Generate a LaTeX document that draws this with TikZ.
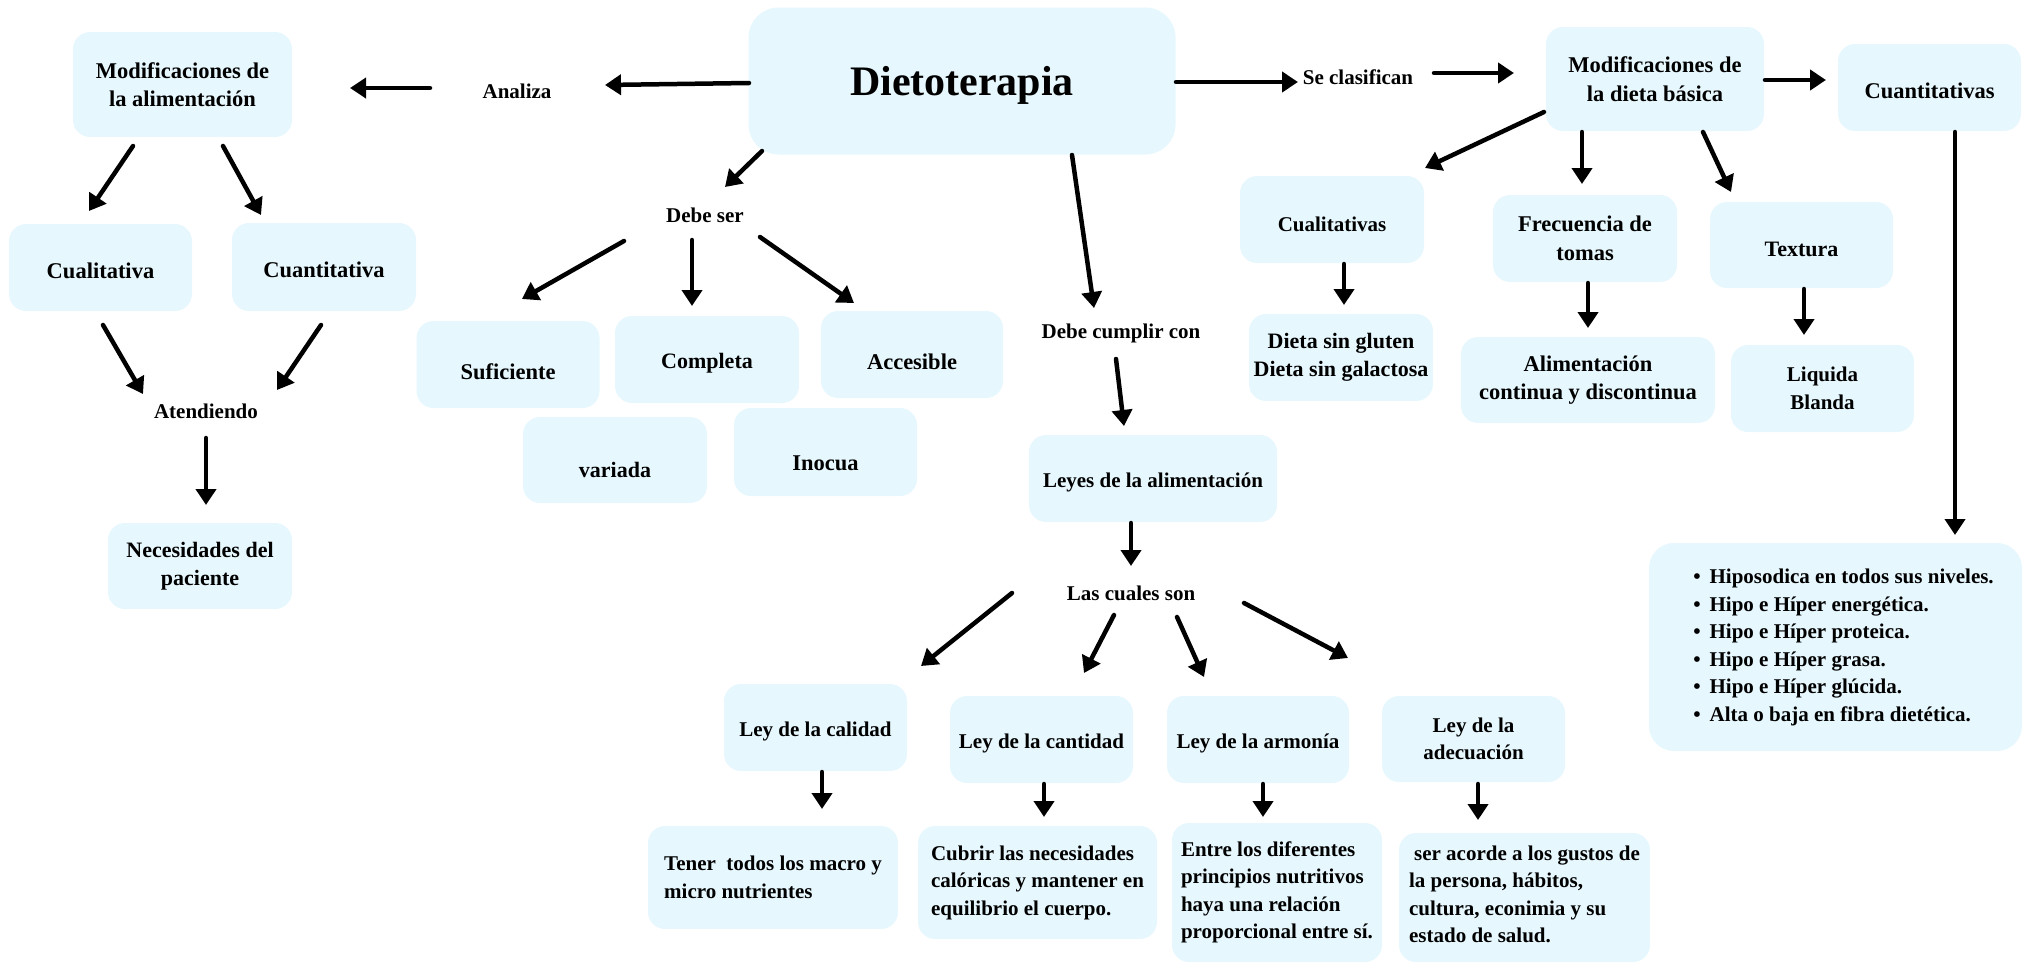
\documentclass[tikz,border=0pt]{standalone}
\usepackage{fontspec}
\setmainfont{Liberation Serif}
\usetikzlibrary{arrows.meta}
\definecolor{boxblue}{RGB}{230,247,253}
\begin{document}
\begin{tikzpicture}[x=1pt,y=-1pt,
  box/.style={fill=boxblue, rounded corners=17pt, inner sep=4pt, align=center, font=\fontsize{21}{27.5}\selectfont\bfseries, lowtxt=22},
  plain/.style={inner sep=2pt, font=\fontsize{21}{27.5}\selectfont\bfseries},
  fa/.style={font=\fontsize{22}{28}\selectfont\bfseries},
  fb/.style={font=\fontsize{22.5}{28.6}\selectfont\bfseries},
  arr/.style={line width=4.5pt, line cap=round, -{Triangle[width=20pt,length=16pt]}},
  bw/.style 2 args={minimum width=#1pt, minimum height=#2pt},
  txtlow/.style={text height=#1pt, text depth=0pt},
  lowtxt/.style={execute at begin node={\rule{0pt}{#1pt}}}
]
\useasboundingbox (0,0) rectangle (2040,964);

% ---------- nodes ----------
\node[box,bw={427}{147},rounded corners=30pt,font=\fontsize{42}{50}\selectfont\bfseries,lowtxt=37] (dieto) at (962,81) {Dietoterapia};
\node[plain] (analiza) at (517,91) {Analiza};
\node[box,fb,bw={219}{105},lowtxt=0] (modal) at (182.5,84.5) {Modificaciones de\\la alimentación};
\node[box,fb,bw={183}{87}] (cuali) at (100.5,267.5) {Cualitativa};
\node[box,fb,bw={184}{88}] (cuanti) at (324,267) {Cuantitativa};
\node[plain] (atend) at (206,411) {Atendiendo};
\node[box,fa,bw={184}{86}] (neces) at (200,566) {Necesidades del\\paciente};

\node[plain] (debeser) at (705,215) {Debe ser};
\node[box,fb,bw={183}{87},txtlow=30.5] (sufi) at (508,364.5) {Suficiente};
\node[box,fa,bw={184}{87}] (compl) at (707,359.5) {Completa};
\node[box,fb,bw={182}{87},txtlow=29.5] (acces) at (912,354.5) {Accesible};
\node[box,fa,bw={184}{86},txtlow=34.5] (variada) at (615,460) {variada};
\node[box,fb,bw={183}{88},txtlow=36.5] (inocua) at (825.5,452) {Inocua};

\node[plain] (debecum) at (1121,333) {Debe cumplir con};
\node[box,bw={248}{87}] (leyes) at (1153,478.5) {Leyes de la alimentación};
\node[plain] (lascuales) at (1131,593) {Las cuales son};
\node[box,bw={183}{87},lowtxt=18] (calidad) at (815.5,727.5) {Ley de la calidad};
\node[box,bw={183}{87},lowtxt=18] (cantidad) at (1041.5,739.5) {Ley de la cantidad};
\node[box,bw={182}{87},lowtxt=18] (armonia) at (1258,739.5) {Ley de la armonía};
\node[box,bw={183}{86},lowtxt=0] (adecu) at (1473.5,739) {Ley de la\\adecuación};
\node[box,bw={250}{103},align=left,lowtxt=0] (tener) at (773,877.5) {Tener~ todos los macro y\\micro nutrientes};
\node[box,bw={239}{113},align=left,lowtxt=0] (cubrir) at (1037.5,882.5) {Cubrir las necesidades\\calóricas y mantener en\\equilibrio el cuerpo.};
\node[box,bw={210}{139},align=left,lowtxt=0] (entre) at (1277,892.5) {Entre los diferentes\\principios nutritivos\\haya una relación\\proporcional entre sí.};
\node[box,bw={251}{129},lowtxt=0,label={[plain,align=left,yshift=3pt]center:{\hspace*{5pt}ser acorde a los gustos de\\la persona, hábitos,\\cultura, econimia y su\\estado de salud.}}] (ser) at (1524.5,897.5) {};

\node[plain] (seclas) at (1358,77) {Se clasifican};
\node[box,fb,bw={218}{104},lowtxt=19] (mdb) at (1655,79) {Modificaciones de\\la dieta básica};
\node[box,fb,bw={183}{87}] (cuants) at (1929.5,87.5) {Cuantitativas};
\node[box,bw={184}{87},lowtxt=24] (cualis) at (1332,219.5) {Cualitativas};
\node[box,fb,bw={184}{87},lowtxt=19] (frec) at (1585,238.5) {Frecuencia de\\tomas};
\node[box,fa,bw={183}{86},lowtxt=24] (textura) at (1801.5,245) {Textura};
\node[box,fa,bw={184}{87}] (dieta) at (1341,357.5) {Dieta sin gluten\\Dieta sin galactosa};
\node[box,fb,bw={254}{86}] (alim) at (1588,380) {Alimentación\\continua y discontinua};
\node[box,bw={183}{87}] (liquida) at (1822.5,388.5) {Liquida\\Blanda};
\node[box,bw={373}{208},rounded corners=25pt,lowtxt=0] (lista) at (1835.5,647) {%
  \begin{tabular}{@{\hspace{16pt}}l@{\hspace{9pt}}l@{}}
  \textbullet & Hiposodica en todos sus niveles.\\
  \textbullet & Hipo e Híper energética.\\
  \textbullet & Hipo e Híper proteica.\\
  \textbullet & Hipo e Híper grasa.\\
  \textbullet & Hipo e Híper glúcida.\\
  \textbullet & Alta o baja en fibra dietética.
  \end{tabular}};

% ---------- connectors ----------
\draw[arr] ([shift={(-213,2)}]dieto.center) -- ([shift={(88,-6)}]analiza.center);
\draw[arr] ([shift={(-87,-3)}]analiza.center) -- ([shift={(167.5,3.5)}]modal.center);
\draw[arr] ([shift={(-49.5,61.5)}]modal.center) -- ([shift={(-11.5,-56.5)}]cuali.center);
\draw[arr] ([shift={(40.5,61.5)}]modal.center) -- ([shift={(-63,-52)}]cuanti.center);
\draw[arr] ([shift={(2.5,57.5)}]cuali.center) -- ([shift={(-63,-17)}]atend.center);
\draw[arr] ([shift={(-3,58)}]cuanti.center) -- ([shift={(71,-21)}]atend.center);
\draw[arr] ([shift={(0,27)}]atend.center) -- ([shift={(6,-61)}]neces.center);

\draw[arr] ([shift={(-200,70)}]dieto.center) -- ([shift={(20,-28)}]debeser.center);
\draw[arr] ([shift={(-81,26)}]debeser.center) -- ([shift={(14,-65.5)}]sufi.center);
\draw[arr] ([shift={(-13,25)}]debeser.center) -- ([shift={(-15,-53.5)}]compl.center);
\draw[arr] ([shift={(55,22)}]debeser.center) -- ([shift={(-58,-51.5)}]acces.center);

\draw[arr] ([shift={(110,74)}]dieto.center) -- ([shift={(-27,-25)}]debecum.center);
\draw[arr] ([shift={(-5,26)}]debecum.center) -- ([shift={(-29,-52.5)}]leyes.center);
\draw[arr] ([shift={(-22,44.5)}]leyes.center) -- ([shift={(0,-27)}]lascuales.center);
\draw[arr] ([shift={(-119,0)}]lascuales.center) -- ([shift={(105.5,-61.5)}]calidad.center);
\draw[arr] ([shift={(-17,22)}]lascuales.center) -- ([shift={(42.5,-66.5)}]cantidad.center);
\draw[arr] ([shift={(46,24)}]lascuales.center) -- ([shift={(-54,-62.5)}]armonia.center);
\draw[arr] ([shift={(113,10)}]lascuales.center) -- ([shift={(-125.5,-81)}]adecu.center);
\draw[arr] ([shift={(6.5,44.5)}]calidad.center) -- ([shift={(49,-68.5)}]tener.center);
\draw[arr] ([shift={(2.5,44.5)}]cantidad.center) -- ([shift={(6.5,-65.5)}]cubrir.center);
\draw[arr] ([shift={(5,44.5)}]armonia.center) -- ([shift={(-14,-75.5)}]entre.center);
\draw[arr] ([shift={(4.5,45)}]adecu.center) -- ([shift={(-46.5,-77.5)}]ser.center);

\draw[arr] ([shift={(214,1)}]dieto.center) -- ([shift={(-60,5)}]seclas.center);
\draw[arr] ([shift={(76,-4)}]seclas.center) -- ([shift={(-141,-6)}]mdb.center);
\draw[arr] ([shift={(110,1)}]mdb.center) -- ([shift={(-103.5,-7.5)}]cuants.center);
\draw[arr] ([shift={(-111,33)}]mdb.center) -- ([shift={(93,-51.5)}]cualis.center);
\draw[arr] ([shift={(-73,53)}]mdb.center) -- ([shift={(-3,-54.5)}]frec.center);
\draw[arr] ([shift={(48,53)}]mdb.center) -- ([shift={(-70.5,-53)}]textura.center);
\draw[arr] ([shift={(12,44.5)}]cualis.center) -- ([shift={(3,-52.5)}]dieta.center);
\draw[arr] ([shift={(3,44.5)}]frec.center) -- ([shift={(0,-52)}]alim.center);
\draw[arr] ([shift={(2.5,44)}]textura.center) -- ([shift={(-18.5,-53.5)}]liquida.center);
\draw[arr] ([shift={(25.5,44.5)}]cuants.center) -- ([shift={(119.5,-112)}]lista.center);
\end{tikzpicture}
\end{document}
